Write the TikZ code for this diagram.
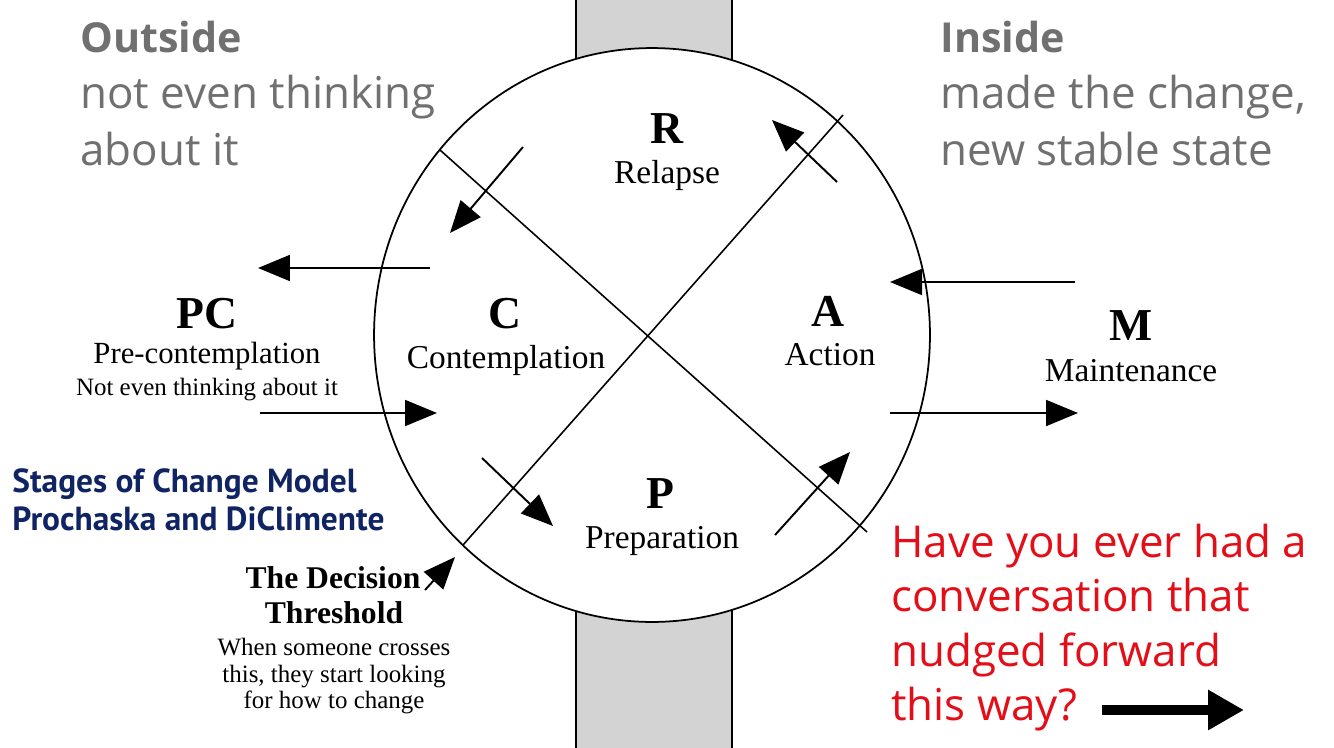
\documentclass[tikz,border=0pt]{standalone}
\usepackage{fontspec}
\usepackage{tikz}
\usetikzlibrary{arrows.meta}
\newfontfamily\opensans{Open Sans}
\newfontfamily\ptsans{PT Sans}
\newfontfamily\wheelfont{Liberation Serif}
\definecolor{slate}{RGB}{112,112,112}
\definecolor{navy}{RGB}{16,36,100}
\definecolor{alarm}{RGB}{228,14,24}
\definecolor{barfill}{RGB}{211,211,211}

\begin{document}
\begin{tikzpicture}[
  x=0.02cm, y=-0.02cm,
  every node/.style={inner sep=0pt, anchor=base},
  bar/.style={fill=barfill, draw=black, line width=1.1pt},
  ring/.style={draw=black, fill=white, line width=1pt},
  chord/.style={draw=black, line width=0.9pt},
  flow/.style={-{Triangle[length=0.64cm, width=0.52cm]}, draw=black, line width=1.1pt},
  nudge/.style={-{Triangle[length=0.72cm, width=0.76cm]}, draw=black, line width=0.2cm},
  stage/.style={font=\wheelfont\fontsize{26}{30}\selectfont\bfseries},
  sname/.style={font=\wheelfont\fontsize{19}{22}\selectfont},
  thresh/.style={font=\wheelfont\fontsize{18}{21}\selectfont\bfseries},
  note/.style={font=\wheelfont\fontsize{14.2}{17}\selectfont},
  gtitle/.style={anchor=base west, text=slate, font=\opensans\fontsize{23.5}{32}\selectfont\bfseries},
  gtext/.style={anchor=base west, text=slate, font=\opensans\fontsize{25}{32}\selectfont},
  ask/.style={anchor=base west, text=alarm, font=\opensans\fontsize{25}{32}\selectfont},
  model/.style={anchor=base west, text=navy, font=\ptsans\fontsize{19}{22}\selectfont\bfseries},
]
  \useasboundingbox (0,0) rectangle (1334,747);
  % grey bars behind the wheel
  \filldraw[bar] (576,-10) rectangle (732,335);
  \filldraw[bar] (576,335) rectangle (732,760);
  \draw[ring] (652,335) ellipse [x radius=5.56cm, y radius=5.74cm];
  % the two chords
  \coordinate (c1a) at (440,150);
  \coordinate (c1b) at (867,532);
  \coordinate (c2a) at (843,115);
  \coordinate (c2b) at (463,545);
  \draw[chord] (c1a) -- (c1b);
  \draw[chord] (c2a) -- (c2b);
  % arrow ends
  \coordinate (rc1) at (523,147);  \coordinate (rc2) at (450,233);
  \coordinate (ar1) at (837,182);  \coordinate (ar2) at (772,120);
  \coordinate (cp1) at (430,268);  \coordinate (cp2) at (258,268);
  \coordinate (pc1) at (260,413);  \coordinate (pc2) at (437,413);
  \coordinate (ma1) at (1075,282); \coordinate (ma2) at (890,282);
  \coordinate (am1) at (890,413);  \coordinate (am2) at (1078,413);
  \coordinate (cq1) at (482,458);  \coordinate (cq2) at (553,526);
  \coordinate (qa1) at (775,535);  \coordinate (qa2) at (850,452);
  \coordinate (dt1) at (425,590);  \coordinate (dt2) at (455,557);
  \coordinate (nw1) at (1102,710); \coordinate (nw2) at (1244,710);
  \draw[flow] (rc1) -- (rc2);
  \draw[flow] (ar1) -- (ar2);
  \draw[flow] (cp1) -- (cp2);
  \draw[flow] (pc1) -- (pc2);
  \draw[flow] (ma1) -- (ma2);
  \draw[flow] (am1) -- (am2);
  \draw[flow] (cq1) -- (cq2);
  \draw[flow] (qa1) -- (qa2);
  \draw[flow] (dt1) -- (dt2);
  \draw[nudge] (nw1) -- (nw2);
  % stage labels
  \node[stage] (r) at (667,143) {R};
  \node[sname] (rl) at (667,183) {Relapse};
  \node[stage] (c) at (505,328) {C};
  \node[sname] (cl) at (506,368) {Contemplation};
  \node[stage] (a) at (828,326) {A};
  \node[sname] (al) at (830,365) {Action};
  \node[stage] (p) at (660,508) {P};
  \node[sname] (pl) at (662,548) {Preparation};
  \node[stage] (pcn) at (207,328) {PC};
  \node[sname, font=\wheelfont\fontsize{17.5}{20}\selectfont] (pcl) at (207,363) {Pre-contemplation};
  \node[note] (pcx) at (207,395) {Not even thinking about it};
  \node[stage] (m) at (1131,340) {M};
  \node[sname] (ml) at (1131,381) {Maintenance};
  \node[thresh] (dt) at (333,588) {The Decision};
  \node[thresh] (th) at (334,623) {Threshold};
  \node[note] (th1) at (334,655) {When someone crosses};
  \node[note] (th2) at (334,682) {this, they start looking};
  \node[note] (th3) at (334,708) {for how to change};
  % slide texts
  \node[gtitle] (out) at (80,52) {Outside};
  \node[gtext] (out1) at (80,108) {not even thinking};
  \node[gtext] (out2) at (80,165) {about it};
  \node[gtitle] (in) at (940,52) {Inside};
  \node[gtext] (in1) at (940,108) {made the change,};
  \node[gtext] (in2) at (940,165) {new stable state};
  \node[model] (mod1) at (12,492) {Stages of Change Model};
  \node[model] (mod2) at (12,530) {Prochaska and DiClimente};
  \node[ask] (q1) at (891,557) {Have you ever had a};
  \node[ask] (q2) at (891,611) {conversation that};
  \node[ask] (q3) at (891,666) {nudged forward};
  \node[ask] (q4) at (891,720) {this way?};
\end{tikzpicture}
\end{document}
